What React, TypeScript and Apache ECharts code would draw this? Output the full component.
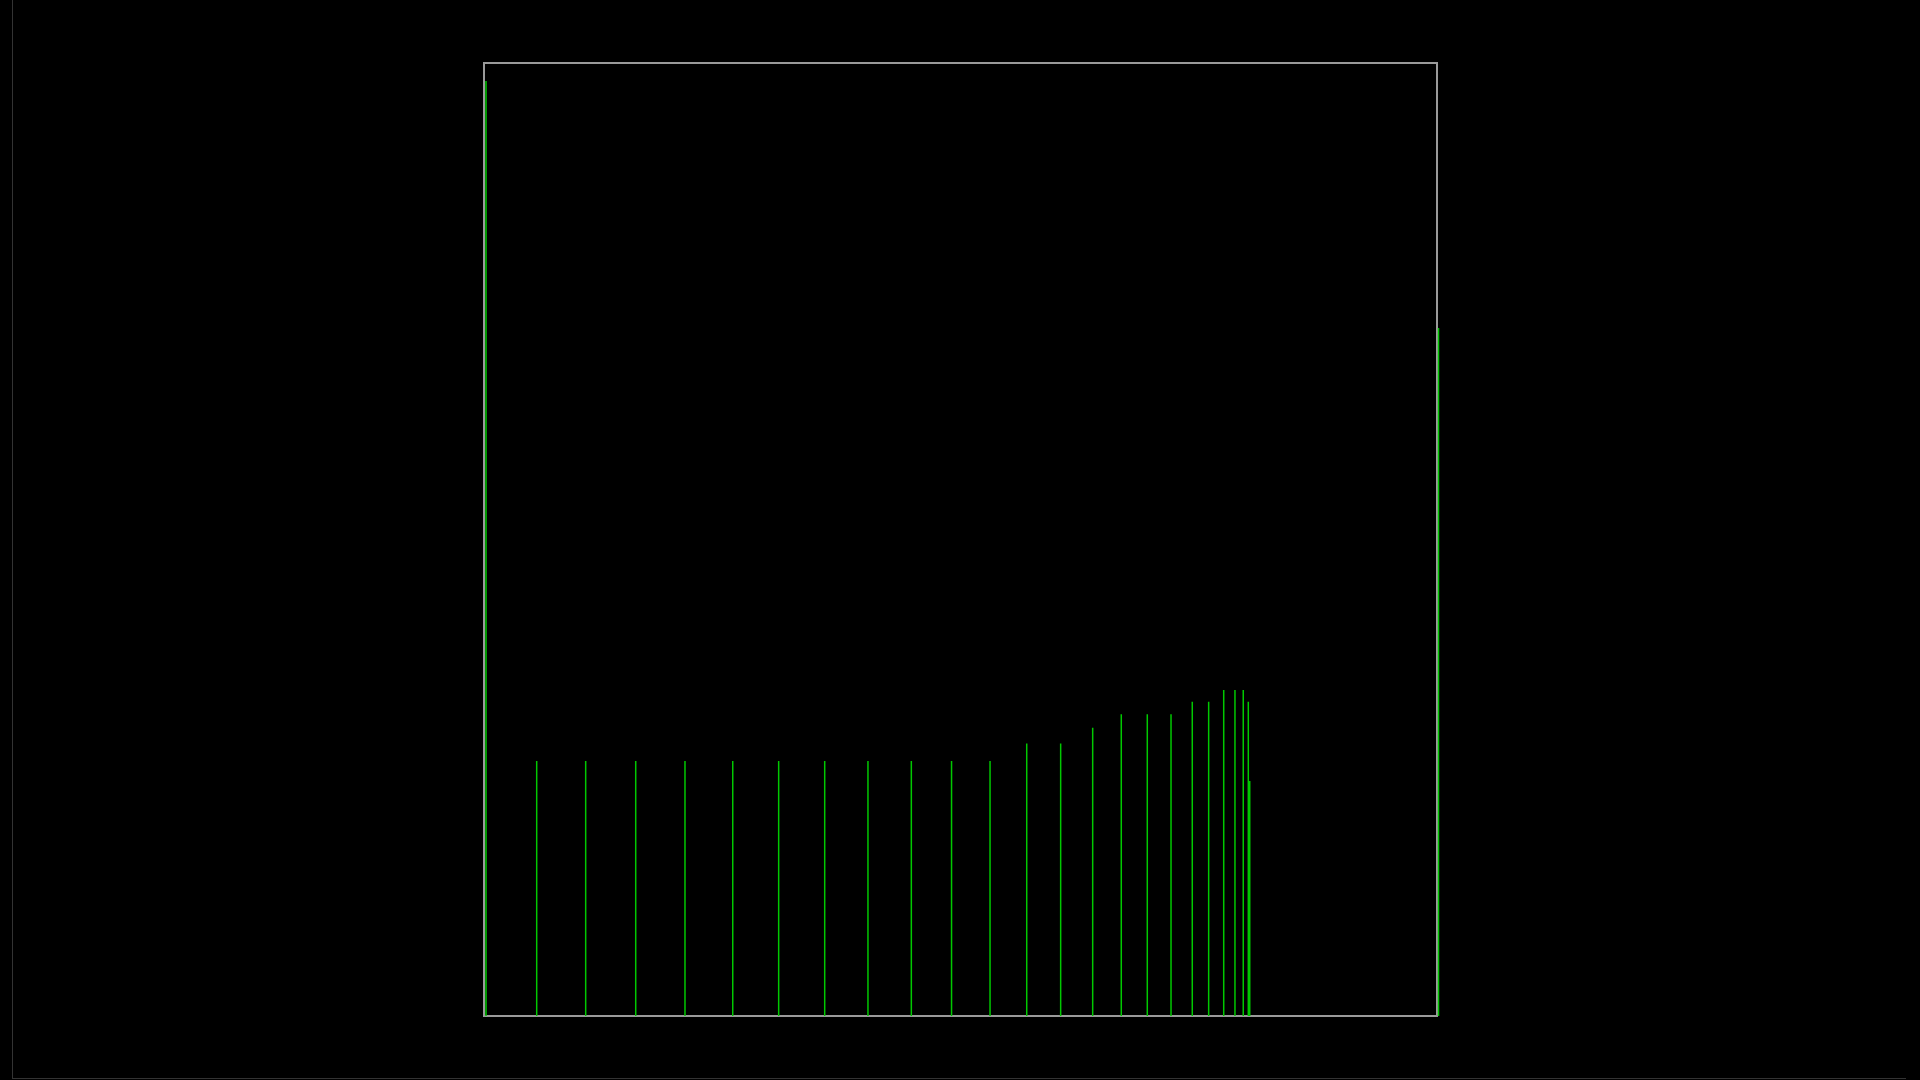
import { useEffect, useRef } from 'react';
import * as echarts from 'echarts';

// stem positions (x) and heights (y), axis units 0..100
const stemX = [
    0.21, 5.53, 10.67, 15.92, 21.09, 26.1, 30.92, 35.75, 40.29, 44.84, 49.06,
    53.1, 56.95, 60.51, 63.87, 66.87, 69.6, 72.09, 74.32, 76.04, 77.62, 78.8,
    79.67, 80.2, 80.35, 100.16
];
const stemY = [
    98.1, 26.76, 26.76, 26.76, 26.76, 26.76, 26.76, 26.76, 26.76, 26.76, 26.76,
    26.76, 28.6, 28.6, 30.25, 31.66, 31.66, 31.66, 32.98, 32.98, 34.2, 34.2,
    34.2, 32.98, 24.66, 72.2
];

const STEM_COLOR = '#00c800';
const FRAME_COLOR = '#9a9a9a';

export default function App() {
    const chartRef = useRef<HTMLDivElement>(null);

    useEffect(() => {
        if (!chartRef.current) return;
        const chart = echarts.init(chartRef.current, null, { renderer: 'svg' });

        const data = stemX.map((x, i) => [x, stemY[i]]);

        chart.setOption({
            animation: false,
            backgroundColor: '#000',
            grid: {
                left: 484,
                top: 63,
                width: 953,
                height: 953,
                show: true,
                borderColor: FRAME_COLOR,
                borderWidth: 2,
                backgroundColor: 'transparent'
            },
            xAxis: {
                type: 'value',
                min: 0,
                max: 100,
                axisLine: { show: false },
                axisTick: { show: false },
                axisLabel: { show: false },
                splitLine: { show: false }
            },
            yAxis: {
                type: 'value',
                min: 0,
                max: 100,
                axisLine: { show: false },
                axisTick: { show: false },
                axisLabel: { show: false },
                splitLine: { show: false }
            },
            series: [
                {
                    type: 'custom',
                    clip: false,
                    data,
                    renderItem: (_params: any, api: any) => {
                        const base = api.coord([api.value(0), 0]);
                        const tip = api.coord([api.value(0), api.value(1)]);
                        return {
                            type: 'line',
                            shape: { x1: base[0], y1: base[1], x2: tip[0], y2: tip[1] },
                            style: { stroke: STEM_COLOR, lineWidth: 1.5 }
                        };
                    }
                }
            ]
        });

        return () => {
            chart.dispose();
        };
    }, []);

    return (
        <div style={{ position: 'fixed', left: 0, top: 0, width: 1920, height: 1080, background: '#000', overflow: 'hidden' }}>
            <div ref={chartRef} style={{ position: 'absolute', left: 0, top: 0, width: 1920, height: 1080 }} />
            <div
                style={{
                    position: 'absolute',
                    left: 12,
                    top: -10,
                    width: 1894,
                    height: 1089,
                    borderLeft: '1px solid #333',
                    borderBottom: '1px solid #333',
                    boxSizing: 'border-box',
                    pointerEvents: 'none'
                }}
            />
        </div>
    );
}
